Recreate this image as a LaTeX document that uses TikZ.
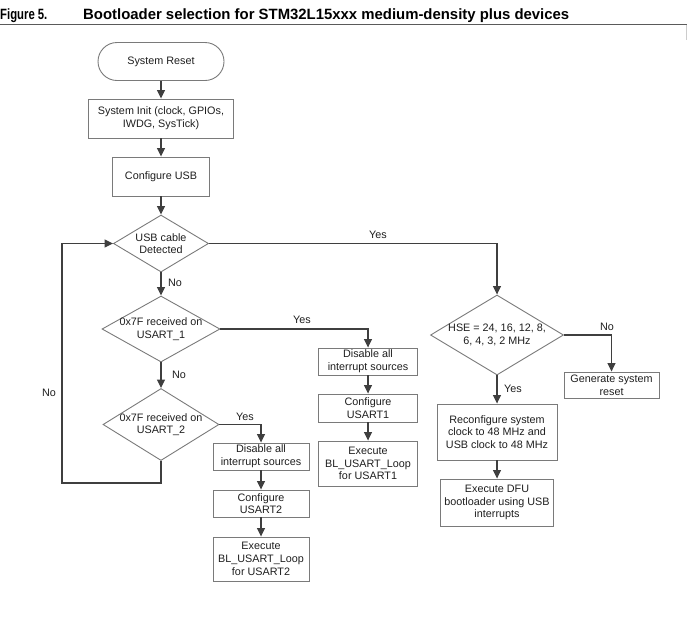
\documentclass[tikz,border=0pt]{standalone}
\usepackage{fontspec}
\setmainfont{Liberation Sans}
\usepackage{graphicx}
\usetikzlibrary{shapes.geometric,arrows.meta}
\definecolor{linecolor}{HTML}{3F3F3F}
\definecolor{framecolor}{HTML}{7A7A7A}
\definecolor{rulecolor}{HTML}{5A5A5A}
\definecolor{textcolor}{HTML}{1E1E1E}
\tikzset{
    flowfont/.style={font=\fontsize{10.8}{12.7}\selectfont, text=textcolor},
    titlefont/.style={font=\fontsize{14.9}{17}\selectfont\bfseries, anchor=base west, inner sep=0pt},
    procbox/.style={
        flowfont,
        draw=framecolor,
        line width=0.9pt,
        rectangle,
        align=center,
        inner sep=0pt
        },
    terminal/.style={procbox, rounded corners=19pt},
    decision/.style={
        flowfont,
        draw=framecolor,
        line width=0.9pt,
        diamond,
        align=center,
        inner sep=-3pt
        },
    flow/.style={
        draw=linecolor,
        line width=1.2pt,
        -{Triangle[width=8pt,length=8.5pt]}
        },
    lbl/.style={flowfont, inner sep=0pt}
}
\begin{document}
\begin{tikzpicture}[x=1pt, y=-1pt]
\useasboundingbox (0,0) rectangle (687,622);
% title
\node[titlefont] (fignum) at (0,19.5) {\scalebox{0.76}[1]{Figure 5.}};
\node[titlefont] (figtitle) at (83,19.5) {Bootloader selection for STM32L15xxx medium-density plus devices};
\coordinate (ruleleft) at (0,24.5);
\coordinate (ruleright) at (687,24.5);
\draw[rulecolor, line width=1.1pt] (ruleleft) -- (ruleright);
\draw[black!20, line width=0.6pt] (686.5,24.5) -- (686.5,40);

% main column
\node[terminal, minimum width=126pt, minimum height=38pt] (reset) at (161,61.5) {System Reset};
\node[procbox, minimum width=145pt, minimum height=39pt] (init) at (161,118.5) {System Init (clock, GPIOs,\\IWDG, SysTick)};
\node[procbox, minimum width=97pt, minimum height=39pt] (cfgusb) at (161,176.5) {Configure USB};
\node[decision, aspect=1.67, minimum width=95pt, minimum height=57pt] (usbdet) at (161,243.5) {USB cable\\Detected};
\node[decision, aspect=1.79, minimum width=118pt, minimum height=66pt] (rxone) at (161,329) {0x7F received on\\USART\_1};
\node[decision, aspect=1.61, minimum width=116pt, minimum height=72pt] (rxtwo) at (161,424.5) {0x7F received on\\USART\_2};

% USART1 branch
\node[procbox, minimum width=99pt, minimum height=27pt] (offone) at (368,361.5) {Disable all\\interrupt sources};
\node[procbox, minimum width=99pt, minimum height=28pt] (cfgone) at (368,408) {Configure\\USART1};
\node[procbox, minimum width=99pt, minimum height=45pt] (runone) at (368,463.5) {Execute\\BL\_USART\_Loop\\for USART1};

% USART2 branch
\node[procbox, minimum width=96pt, minimum height=27pt] (offtwo) at (261,456.5) {Disable all\\interrupt sources};
\node[procbox, minimum width=96pt, minimum height=27pt] (cfgtwo) at (261,503.5) {Configure\\USART2};
\node[procbox, minimum width=96pt, minimum height=44pt] (runtwo) at (261,559) {Execute\\BL\_USART\_Loop\\for USART2};

% USB branch
\node[decision, aspect=1.66, minimum width=133pt, minimum height=80pt] (hse) at (497,335) {HSE = 24, 16, 12, 8,\\6, 4, 3, 2 MHz};
\node[procbox, minimum width=95pt, minimum height=26pt] (sysrst) at (611.5,385) {Generate system\\reset};
\node[procbox, minimum width=120pt, minimum height=56pt] (reclk) at (497,432) {Reconfigure system\\clock to 48 MHz and\\USB clock to 48 MHz};
\node[procbox, minimum width=113pt, minimum height=47pt] (dfu) at (497,502.5) {Execute DFU\\bootloader using USB\\interrupts};

% connectors
\draw[flow] (reset) -- (init);
\draw[flow] (init) -- (cfgusb);
\draw[flow] (cfgusb) -- (usbdet);
\draw[flow] (usbdet) -- (rxone);
\draw[flow] (rxone) -- (rxtwo);
\draw[flow] (usbdet.east) -| (hse.north);
\draw[flow] (rxone.east) -| (offone.north);
\draw[flow] (rxtwo.east) -| (offtwo.north);
\coordinate (loopbottom) at (161,483);
\coordinate (loopleft) at (62,483);
\draw[flow] (rxtwo.south) -- (loopbottom) -- (loopleft) |- (usbdet.west);
\draw[flow] (offone) -- (cfgone);
\draw[flow] (cfgone) -- (runone);
\draw[flow] (offtwo) -- (cfgtwo);
\draw[flow] (cfgtwo) -- (runtwo);
\draw[flow] (hse.east) -| (sysrst.north);
\draw[flow] (hse) -- (reclk);
\draw[flow] (reclk) -- (dfu);

% branch labels
\node[lbl] (yesusb) at (378,235) {Yes};
\node[lbl] (nousb) at (175,283) {No};
\node[lbl] (yesone) at (302,320) {Yes};
\node[lbl] (noone) at (179,375) {No};
\node[lbl] (yestwo) at (245,417) {Yes};
\node[lbl] (noloop) at (49,393) {No};
\node[lbl] (nohse) at (607,327) {No};
\node[lbl] (yeshse) at (513,389) {Yes};
\end{tikzpicture}
\end{document}
